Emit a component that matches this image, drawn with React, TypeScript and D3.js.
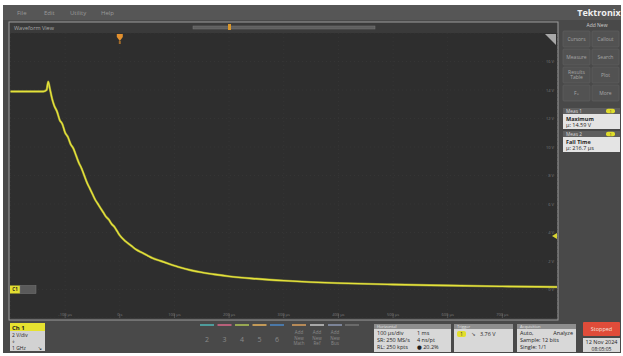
import React from "react";
import * as d3 from "d3";

const W = 623;
const H = 356;

// Captured Ch 1 record: time in µs relative to the trigger, voltage in V
const timeUs = [
  -200, -185, -170, -155, -140, -134, -131, -128, -124, -120, -115, -110, -105, -100, -95, -90,
  -85, -80, -75, -70, -65, -60, -55, -50, -45, -40, -35, -30, -25, -20, -15, -10, -5, 0, 10, 20,
  30, 40, 50, 60, 75, 90, 110, 130, 150, 175, 200, 250, 300, 350, 400, 500, 600, 700, 800,
];
const volts = [
  13.9, 13.9, 13.9, 13.9, 13.9, 14.0, 14.59, 14.1, 13.4, 12.9, 12.5, 11.9, 11.6, 11.0, 10.7, 10.2,
  9.9, 9.4, 8.9, 8.5, 8.0, 7.5, 7.1, 6.7, 6.3, 6.0, 5.7, 5.4, 5.1, 4.9, 4.6, 4.4, 4.1, 3.8, 3.4, 3.1,
  2.8, 2.6, 2.4, 2.2, 2.0, 1.8, 1.55, 1.35, 1.2, 1.05, 0.92, 0.75, 0.62, 0.52, 0.45, 0.35, 0.28, 0.22, 0.18,
];

const timeTicks = [-100, 0, 100, 200, 300, 400, 500, 600, 700];
const timeTickLabels = ["-100 µs", "0 s", "100 µs", "200 µs", "300 µs", "400 µs", "500 µs", "600 µs", "700 µs"];
const voltTicks = [16, 14, 12, 10, 8, 6, 4, 2, 0];
const voltTickLabels = ["16 V", "14 V", "12 V", "10 V", "8 V", "6 V", "4 V", "2 V", "0 V"];
const timeGrid = [-200, -100, 0, 100, 200, 300, 400, 500, 600, 700, 800];
const voltGrid = [-2, 0, 2, 4, 6, 8, 10, 12, 14, 16, 18];

const menuItems = ["File", "Edit", "Utility", "Help"];
const sideButtons = [
  ["Cursors", "Callout"],
  ["Measure", "Search"],
  ["Results Table", "Plot"],
  ["Fₓ", "More"],
];
const measNames = ["Meas 1", "Meas 2"];
const measLabels = ["Maximum", "Fall Time"];
const measValues = ["μ: 14.59 V", "μ: 216.7 μs"];
const channelButtons = ["2", "3", "4", "5", "6"];
const channelColors = ["#4e9c9c", "#b8607a", "#98a852", "#c39a58", "#4a78a8"];
const addNewButtons = [["Add", "New", "Math"], ["Add", "New", "Ref"], ["Add", "New", "Bus"]];
const addNewColors = ["#b68a58", "#a8a8a8", "#7c8498"];
const horizontalLines = [["100 µs/div", "1 ms"], ["SR: 250 MS/s", "4 ns/pt"], ["RL: 250 kpts", "● 20.2%"]];
const acquisitionLines = [["Auto,", "Analyze"], ["Sample: 12 bits", ""], ["Single: 1/1", ""]];
const triggerLevel = 3.76;

const FONT = "'Open Sans', 'DejaVu Sans', sans-serif";

export default function App() {
  // plot area of the waveform view
  const x = d3.scaleLinear().domain([-200, 800]).range([10.5, 557]);
  const y = d3.scaleLinear().domain([-2, 18]).range([318, 33]);

  const tracePath = d3
    .line<number>()
    .x((_, i) => x(timeUs[i]))
    .y((v) => y(v))
    .curve(d3.curveMonotoneX)(volts) as string;

  return (
    <svg
      width={W}
      height={H}
      style={{ position: "absolute", left: 0, top: 0, display: "block" }}
      fontFamily={FONT}
    >
      <defs>
        <filter id="glow" x="-5%" y="-5%" width="110%" height="110%">
          <feGaussianBlur stdDeviation="0.6" />
        </filter>
      </defs>
      <rect x={0} y={0} width={W} height={H} fill="#ffffff" />
      {/* instrument screen */}
      <rect x={3} y={5} width={618} height={348} fill="#494949" />

      {/* menu bar */}
      <rect x={3} y={5} width={618} height={15} fill="#565656" />
      {menuItems.map((m, i) => (
        <text key={m} x={[17, 44, 70, 101][i]} y={15} fontSize={6} fill="#9a9a9a">
          {m}
        </text>
      ))}

      {/* waveform view frame */}
      <rect x={9} y={22} width={549} height={298} fill="#3a3a3a" stroke="#9c9c9c" strokeWidth={1} />
      <text x={14} y={30} fontSize={5.5} fill="#a8a8a8">Waveform View</text>
      <rect x={193} y={26} width={182} height={3} fill="#5e5e5e" stroke="#7a7a7a" strokeWidth={0.5} />
      <rect x={228} y={24} width={3} height={6} fill="#d8962c" />

      {/* plot area */}
      <rect x={10} y={33} width={547} height={285} fill="#2e2e2e" />
      {timeGrid.map((t) => (
        <line key={"gx" + t} x1={x(t)} x2={x(t)} y1={33} y2={318} stroke="#3a3a3a" strokeWidth={0.6} strokeDasharray="1,3" />
      ))}
      {voltGrid.map((v) => (
        <line key={"gy" + v} x1={10} x2={557} y1={y(v)} y2={y(v)} stroke="#3a3a3a" strokeWidth={0.6} strokeDasharray="1,3" />
      ))}
      {timeTicks.map((t, i) => (
        <g key={"tt" + t}>
          <line x1={x(t)} x2={x(t)} y1={314} y2={318} stroke="#6a6a6a" strokeWidth={0.6} />
          <text x={x(t)} y={316} fontSize={4} fill="#7c7c7c" textAnchor="middle">
            {timeTickLabels[i]}
          </text>
        </g>
      ))}
      {voltTicks.map((v, i) => (
        <text key={"vt" + v} x={554} y={y(v) + 1.5} fontSize={4} fill="#7c7c7c" textAnchor="end">
          {voltTickLabels[i]}
        </text>
      ))}

      {/* corner indicator */}
      <path d="M545,34 L556,34 L556,45 Z" fill="#a8a8a8" />

      {/* trigger position marker */}
      <path
        d={`M${x(0) - 3},34 L${x(0) + 3},34 L${x(0) + 3},37 L${x(0)},41 L${x(0) - 3},37 Z`}
        fill="#e2902e"
      />
      <rect x={x(0) - 1} y={41} width={2} height={3} fill="#a06a2a" />

      {/* trigger level marker */}
      <path
        d={`M557,${y(triggerLevel) - 3} L552,${y(triggerLevel)} L557,${y(triggerLevel) + 3} Z`}
        fill="#d8d432"
      />

      {/* Ch 1 trace */}
      <path d={tracePath} fill="none" stroke="#d8d838" strokeWidth={2.4} opacity={0.5} filter="url(#glow)" />
      <path d={tracePath} fill="none" stroke="#e4e23a" strokeWidth={1.4} strokeLinejoin="round" />

      {/* Ch 1 ground marker */}
      <rect x={10} y={y(0) - 4} width={10} height={8} fill="#e2de30" />
      <text x={15} y={y(0) + 1.8} fontSize={4.5} fill="#222" textAnchor="middle" fontWeight="bold">C1</text>
      <rect x={20} y={y(0) - 4} width={16} height={8} fill="#5a5a5a" stroke="#7a7a7a" strokeWidth={0.5} />

      {/* right-hand panel */}
      <text x={599} y={16} fontSize={9} fill="#f0f0f0" fontWeight="bold" textAnchor="middle">Tektronix</text>
      <text x={597} y={27} fontSize={5} fill="#d0d0d0" textAnchor="middle">Add New</text>
      {sideButtons.map((row, r) =>
        row.map((label, c) => {
          const bx = 563 + c * 29;
          const by = 31 + r * 18;
          const words = label.split(" ");
          return (
            <g key={label}>
              <rect x={bx} y={by} width={27} height={16} fill="#525252" stroke="#626262" strokeWidth={0.6} rx={1} />
              {words.map((w, k) => (
                <text
                  key={w}
                  x={bx + 13.5}
                  y={by + 9.5 + (k - (words.length - 1) / 2) * 5.5}
                  fontSize={5}
                  fill="#a6a6a6"
                  textAnchor="middle"
                >
                  {w}
                </text>
              ))}
            </g>
          );
        })
      )}
      {measNames.map((name, i) => {
        const my = 108 + i * 23;
        return (
          <g key={name}>
            <rect x={563} y={my} width={57} height={6} fill="#5e5e5e" />
            <text x={566} y={my + 4.8} fontSize={4.8} fill="#d8d8d8">{name}</text>
            <rect x={606} y={my + 0.8} width={9} height={4.5} rx={2} fill="#e0dc2c" />
            <text x={610.5} y={my + 4.5} fontSize={3.8} fill="#333" textAnchor="middle">1</text>
            <rect x={563} y={my + 6} width={57} height={15} fill="#e4e4e4" />
            <text x={566} y={my + 12.5} fontSize={5.5} fill="#1e1e1e" fontWeight="bold">{measLabels[i]}</text>
            <text x={566} y={my + 19} fontSize={5.5} fill="#1e1e1e">{measValues[i]}</text>
          </g>
        );
      })}

      {/* bottom badge bar */}
      <rect x={10} y={323} width={35} height={8} fill="#e6e230" />
      <text x={12} y={329.5} fontSize={6} fill="#1c1c1c" fontWeight="bold">Ch 1</text>
      <rect x={10} y={331} width={35} height={20} fill="#d2d2d2" />
      <text x={12} y={337} fontSize={5} fill="#222">2 V/div</text>
      <text x={12} y={343} fontSize={4} fill="#222">⏚</text>
      <text x={12} y={349.5} fontSize={5} fill="#222">1 GHz</text>
      <text x={42} y={349.5} fontSize={5} fill="#222" textAnchor="end">↘</text>

      {channelButtons.map((c, i) => (
        <g key={"ch" + c}>
          <rect x={200 + i * 17.5} y={324} width={14} height={2} fill={channelColors[i]} />
          <text x={207 + i * 17.5} y={342} fontSize={7} fill="#8a8a8a" textAnchor="middle">{c}</text>
        </g>
      ))}
      {addNewButtons.map((b, i) => (
        <g key={"an" + i}>
          <rect x={292 + i * 18} y={324} width={14} height={2} fill={addNewColors[i]} />
          {b.map((w, k) => (
            <text key={w} x={299 + i * 18} y={334 + k * 5.5} fontSize={4.5} fill="#8a8a8a" textAnchor="middle">{w}</text>
          ))}
        </g>
      ))}
      <rect x={345} y={324} width={14} height={2} fill="#6a6a6a" />

      {/* horizontal badge */}
      <rect x={374} y={324} width={77} height={5} fill="#8e8e8e" />
      <text x={377} y={328} fontSize={4} fill="#e8e8e8">Horizontal</text>
      <rect x={374} y={329} width={77} height={23} fill="#d8d8d8" />
      {horizontalLines.map((l, i) => (
        <g key={"h" + i}>
          <text x={377} y={335 + i * 7} fontSize={5.5} fill="#1e1e1e">{l[0]}</text>
          <text x={417} y={335 + i * 7} fontSize={5.5} fill="#1e1e1e">{l[1]}</text>
        </g>
      ))}

      {/* trigger badge */}
      <rect x={454} y={324} width={59} height={5} fill="#8e8e8e" />
      <text x={457} y={328} fontSize={4} fill="#e8e8e8">Trigger</text>
      <rect x={454} y={329} width={59} height={23} fill="#d8d8d8" />
      <rect x={457} y={331} width={9} height={6} rx={2} fill="#e2de2c" />
      <text x={461.5} y={335.8} fontSize={4.5} fill="#333" textAnchor="middle">1</text>
      <text x={471} y={336} fontSize={5.5} fill="#444">↘</text>
      <text x={480} y={336} fontSize={5.5} fill="#1e1e1e">{`${triggerLevel.toFixed(2)} V`}</text>

      {/* acquisition badge */}
      <rect x={517} y={324} width={59} height={5} fill="#8e8e8e" />
      <text x={520} y={328} fontSize={4} fill="#e8e8e8">Acquisition</text>
      <rect x={517} y={329} width={59} height={23} fill="#d8d8d8" />
      {acquisitionLines.map((l, i) => (
        <g key={"a" + i}>
          <text x={520} y={335 + i * 7} fontSize={5.5} fill="#1e1e1e">{l[0]}</text>
          <text x={573} y={335 + i * 7} fontSize={5.5} fill="#1e1e1e" textAnchor="end">{l[1]}</text>
        </g>
      ))}

      {/* run state */}
      <rect x={583} y={322} width={37} height={14} fill="#e04c3a" rx={1} />
      <text x={601.5} y={331} fontSize={5.5} fill="#f4e0dc" textAnchor="middle">Stopped</text>
      <rect x={583} y={338} width={37} height={14} fill="#d8d8d8" />
      <text x={601.5} y={344} fontSize={5.5} fill="#1e1e1e" textAnchor="middle">12 Nov 2024</text>
      <text x={601.5} y={350.5} fontSize={5} fill="#1e1e1e" textAnchor="middle">08:05:05</text>
    </svg>
  );
}
